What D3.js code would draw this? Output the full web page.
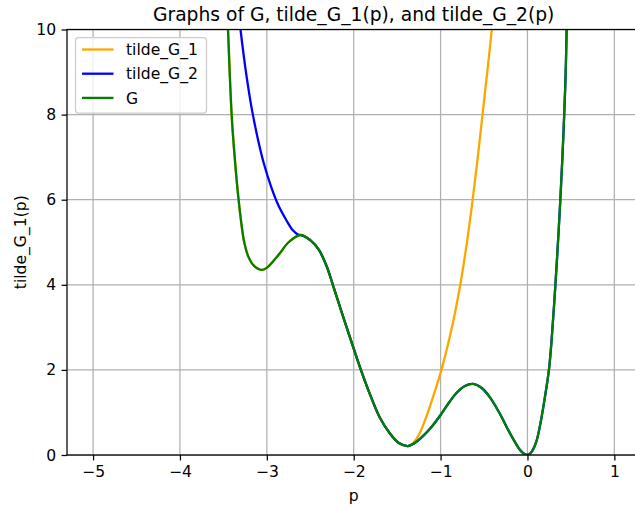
<!DOCTYPE html>
<html>
<head>
<meta charset="utf-8">
<script src="https://cdn.jsdelivr.net/npm/d3@7"></script>
<style>
  body { margin: 0; background: #fff; }
  svg { font-family: "DejaVu Sans", sans-serif; }
</style>
</head>
<body>
<script>
// values
const pG = [-3.48, -3.447, -3.405, -3.37, -3.325, -3.26, -3.21, -3.15, -3.06, -3.0, -2.95, -2.85, -2.75, -2.61,
            -2.5, -2.4, -2.31, -2.24, -2.12, -2.0, -1.91, -1.8, -1.7, -1.585, -1.48, -1.38,
            -1.3, -1.2, -1.1, -1.0, -0.9, -0.82, -0.72, -0.625, -0.53, -0.43, -0.32, -0.24, -0.16, -0.09, -0.04, 0.0,
            0.05, 0.1, 0.15, 0.2, 0.25, 0.285, 0.32, 0.35, 0.377, 0.4, 0.423, 0.44, 0.451, 0.465];
const gValues = [11.6, 10.0, 8.0, 7.0, 6.0, 5.0, 4.65, 4.45, 4.35, 4.40, 4.50, 4.74, 5.0, 5.17,
                 5.05, 4.82, 4.43, 4.0, 3.24, 2.5, 1.96, 1.36, 0.88, 0.51, 0.28, 0.21,
                 0.28, 0.45, 0.67, 0.94, 1.24, 1.45, 1.62, 1.67, 1.58, 1.35, 0.98, 0.66, 0.36, 0.13, 0.03, 0.0,
                 0.08, 0.3, 0.75, 1.35, 2.05, 2.9, 3.95, 4.95, 5.95, 6.9, 8.0, 9.0, 10.0, 11.5];

const pT1 = [-3.48, -3.447, -3.405, -3.37, -3.325, -3.26, -3.21, -3.15, -3.06, -3.0, -2.95, -2.85, -2.75, -2.61,
             -2.5, -2.4, -2.31, -2.24, -2.12, -2.0, -1.91, -1.8, -1.7, -1.585, -1.48, -1.38,
             -1.36, -1.32, -1.28, -1.23, -1.16, -1.08, -0.99, -0.88, -0.778, -0.7, -0.64, -0.58, -0.517, -0.46, -0.41, -0.38];
const t1Values = [11.6, 10.0, 8.0, 7.0, 6.0, 5.0, 4.65, 4.45, 4.35, 4.40, 4.50, 4.74, 5.0, 5.17,
                  5.05, 4.82, 4.43, 4.0, 3.24, 2.5, 1.96, 1.36, 0.88, 0.51, 0.28, 0.21,
                  0.22, 0.27, 0.37, 0.56, 0.92, 1.41, 2.0, 2.9, 3.95, 4.95, 5.85, 6.85, 8.0, 9.05, 10.0, 10.6];

const pT2 = [-3.33, -3.303, -3.24, -3.17, -3.10, -3.03, -2.95, -2.87, -2.77, -2.70, -2.64, -2.61,
             -2.5, -2.4, -2.31, -2.24, -2.12, -2.0, -1.91, -1.8, -1.7, -1.585, -1.48, -1.38,
             -1.3, -1.2, -1.1, -1.0, -0.9, -0.82, -0.72, -0.625, -0.53, -0.43, -0.32, -0.24, -0.16, -0.09, -0.04, 0.0,
             0.05, 0.1, 0.15, 0.2, 0.25, 0.285, 0.32, 0.35, 0.377, 0.4, 0.423, 0.44, 0.451, 0.465];
const t2Values = [10.5, 10.0, 9.0, 8.1, 7.4, 6.82, 6.3, 5.88, 5.5, 5.28, 5.18, 5.17,
                  5.05, 4.82, 4.43, 4.0, 3.24, 2.5, 1.96, 1.36, 0.88, 0.51, 0.28, 0.21,
                  0.28, 0.45, 0.67, 0.94, 1.24, 1.45, 1.62, 1.67, 1.58, 1.35, 0.98, 0.66, 0.36, 0.13, 0.03, 0.0,
                  0.08, 0.3, 0.75, 1.35, 2.05, 2.9, 3.95, 4.95, 5.95, 6.9, 8.0, 9.0, 10.0, 11.5];

const xTicks = [-5, -4, -3, -2, -1, 0, 1];
const yTicks = [0, 2, 4, 6, 8, 10];
const seriesNames = ["tilde_G_1", "tilde_G_2", "G"];
const seriesColors = ["orange", "blue", "green"];

const width = 635, height = 509;
const plotLeft = 67, plotRight = 640.4, plotTop = 29.5, plotBottom = 455;
const fontSize = 15.6;

const svg = d3.select("body").append("svg")
    .attr("width", width)
    .attr("height", height);

const x = d3.scaleLinear().domain([-5.3, 1.3]).range([plotLeft, plotRight]);
const y = d3.scaleLinear().domain([0, 10]).range([plotBottom, plotTop]);

// grid
svg.append("g").selectAll("line")
    .data(xTicks).enter().append("line")
    .attr("x1", d => x(d)).attr("x2", d => x(d))
    .attr("y1", plotTop).attr("y2", plotBottom)
    .attr("stroke", "#b0b0b0").attr("stroke-width", 1.25);
svg.append("g").selectAll("line")
    .data(yTicks).enter().append("line")
    .attr("x1", plotLeft).attr("x2", plotRight)
    .attr("y1", d => y(d)).attr("y2", d => y(d))
    .attr("stroke", "#b0b0b0").attr("stroke-width", 1.25);

// curves
svg.append("clipPath").attr("id", "plot-clip")
    .append("rect")
    .attr("x", plotLeft).attr("y", plotTop)
    .attr("width", plotRight - plotLeft).attr("height", plotBottom - plotTop);

const line = d3.line()
    .x(d => x(d[0]))
    .y(d => y(d[1]))
    .curve(d3.curveCatmullRom.alpha(0.5));

const series = [
    d3.zip(pT1, t1Values),
    d3.zip(pT2, t2Values),
    d3.zip(pG, gValues)
];

const curves = svg.append("g").attr("clip-path", "url(#plot-clip)");
series.forEach((s, i) => {
    curves.append("path")
        .datum(s)
        .attr("d", line)
        .attr("fill", "none")
        .attr("stroke", seriesColors[i])
        .attr("stroke-width", 2.3)
        .attr("stroke-linejoin", "round");
});

// axes
const xAxis = svg.append("g")
    .attr("transform", `translate(0,${plotBottom})`)
    .call(d3.axisBottom(x).tickValues(xTicks).tickFormat(d3.format("d"))
        .tickSize(5.4).tickPadding(5.4).tickSizeOuter(0));
const yAxis = svg.append("g")
    .attr("transform", `translate(${plotLeft},0)`)
    .call(d3.axisLeft(y).tickValues(yTicks).tickFormat(d3.format("d"))
        .tickSize(5.4).tickPadding(5.4).tickSizeOuter(0));

[xAxis, yAxis].forEach(g => {
    g.select(".domain").remove();
    g.selectAll("line").attr("stroke", "#000").attr("stroke-width", 1.25);
    g.selectAll("text").attr("font-size", fontSize).attr("fill", "#000")
        .attr("font-family", "DejaVu Sans");
});

// spines
svg.append("rect")
    .attr("x", plotLeft).attr("y", plotTop)
    .attr("width", plotRight - plotLeft).attr("height", plotBottom - plotTop)
    .attr("fill", "none").attr("stroke", "#000").attr("stroke-width", 1.25);

// labels
svg.append("text")
    .attr("x", (plotLeft + plotRight) / 2).attr("y", 21)
    .attr("text-anchor", "middle")
    .attr("font-size", 18.7)
    .text("Graphs of G, tilde_G_1(p), and tilde_G_2(p)");

svg.append("text")
    .attr("x", (plotLeft + plotRight) / 2).attr("y", 501)
    .attr("text-anchor", "middle")
    .attr("font-size", fontSize)
    .text("p");

svg.append("text")
    .attr("transform", `translate(26,${(plotTop + plotBottom) / 2}) rotate(-90)`)
    .attr("text-anchor", "middle")
    .attr("font-size", fontSize)
    .text("tilde_G_1(p)");

// legend
const legend = svg.append("g");
legend.append("rect")
    .attr("x", 75.5).attr("y", 37.5)
    .attr("width", 131).attr("height", 75.5)
    .attr("rx", 3).attr("ry", 3)
    .attr("fill", "#fff").attr("fill-opacity", 0.8)
    .attr("stroke", "#cccccc").attr("stroke-width", 1.25);

seriesNames.forEach((name, i) => {
    const ly = 49.5 + i * 24.2;
    legend.append("line")
        .attr("x1", 82).attr("x2", 113.5)
        .attr("y1", ly).attr("y2", ly)
        .attr("stroke", seriesColors[i]).attr("stroke-width", 2.3);
    legend.append("text")
        .attr("x", 126).attr("y", ly)
        .attr("dy", "0.36em")
        .attr("font-size", fontSize)
        .text(name);
});
</script>
</body>
</html>
